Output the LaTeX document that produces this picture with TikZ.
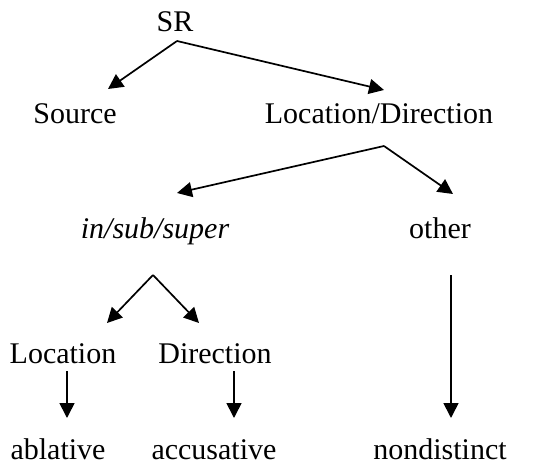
\documentclass[tikz,border=0pt]{standalone}
\usepackage{fontspec}
\setmainfont{Liberation Serif}
\usetikzlibrary{arrows.meta}
\begin{document}
\begin{tikzpicture}[x=1pt,y=-1pt,
  lbl/.style={anchor=base,inner sep=0pt,font=\fontsize{30}{36}\selectfont},
  arr/.style={line width=1.7pt,-{Triangle[length=15pt,width=15pt]}}]
\useasboundingbox (0,0) rectangle (542,466);
% labels, placed on their baselines
\node[lbl] (sr)    at (175,31)  {SR};
\node[lbl] (src)   at (75,123)  {Source};
\node[lbl] (ld)    at (379,123) {Location/Direction};
\node[lbl] (iss)   at (155,238) {\itshape in/sub/super};
\node[lbl] (oth)   at (440,238) {other};
\node[lbl] (loc)   at (63,363)  {Location};
\node[lbl] (dir)   at (215,363) {Direction};
\node[lbl] (abl)   at (58,459)  {ablative};
\node[lbl] (acc)   at (214,459) {accusative};
\node[lbl] (nd)    at (440,459) {nondistinct};
% connector end points
\coordinate (srB)  at (177,41);
\coordinate (srcT) at (108,89);
\coordinate (ldT)  at (384,90);
\coordinate (ldB)  at (384,146);
\coordinate (issT) at (177,193);
\coordinate (othT) at (453,194);
\coordinate (issB) at (153,275);
\coordinate (locT) at (107,323);
\coordinate (dirT) at (199,323);
\coordinate (othB) at (451,275);
\coordinate (ndT)  at (451,418);
\coordinate (locB) at (67,371);
\coordinate (ablT) at (67,418);
\coordinate (dirB) at (234,371);
\coordinate (accT) at (234,418);
% connectors
\draw[arr] (srB) -- (srcT);
\draw[arr] (srB) -- (ldT);
\draw[arr] (ldB) -- (issT);
\draw[arr] (ldB) -- (othT);
\draw[arr] (issB) -- (locT);
\draw[arr] (issB) -- (dirT);
\draw[arr] (othB) -- (ndT);
\draw[arr] (locB) -- (ablT);
\draw[arr] (dirB) -- (accT);
\end{tikzpicture}
\end{document}
